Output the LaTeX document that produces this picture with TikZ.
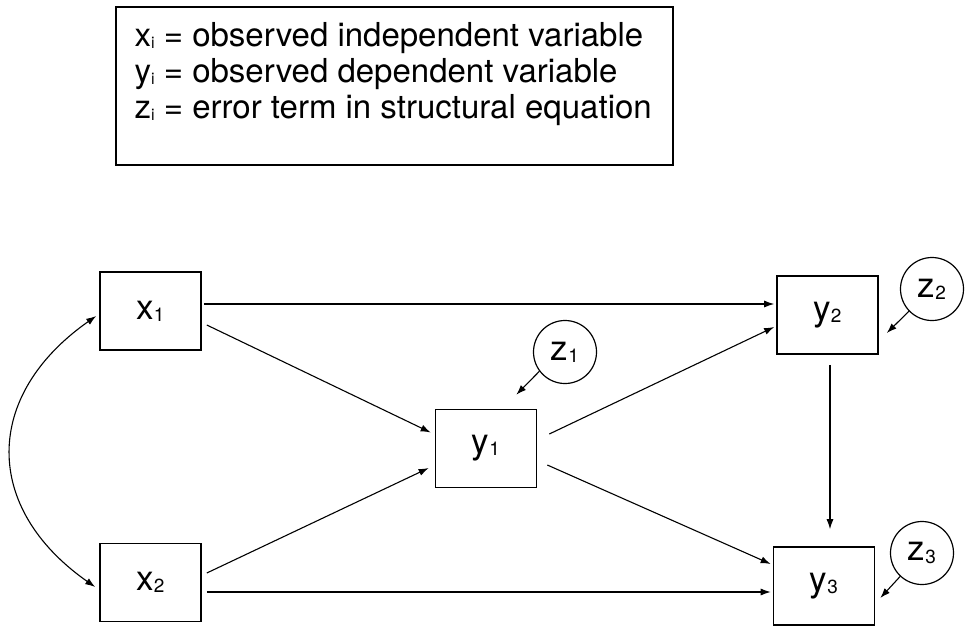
\documentclass[tikz,border=0pt]{standalone}
\usepackage{fontspec}
\setmainfont{TeX Gyre Heros}
\usetikzlibrary{arrows.meta}
\newcommand{\vsub}[2]{\raisebox{-0.06em}{\fontsize{#1}{#1}\selectfont #2}}
\tikzset{
  obsbox/.style={draw, line width=1.6pt, minimum width=101pt, minimum height=78pt, inner sep=0pt, font=\fontsize{35}{35}\selectfont},
  errcircle/.style={draw, circle, line width=1.2pt, minimum size=63pt, inner sep=0pt, font=\fontsize{35}{35}\selectfont},
  legline/.style={anchor=base west, inner sep=0pt, font=\fontsize{33}{36}\selectfont},
  causal/.style={line width=1.1pt, -{Latex[length=10pt,width=7pt]}},
  covar/.style={line width=1.1pt, {Latex[length=10pt,width=7pt]}-{Latex[length=10pt,width=7pt]}},
}

\begin{document}
\begin{tikzpicture}[x=1pt,y=-1pt]
    \useasboundingbox (0,0) rectangle (967,627);

    % Legend
    \node[draw, line width=1.1pt, minimum width=557pt, minimum height=158pt] (legend) at (394.5,86) {};
    \node[legline] (leg1) at ([shift={(19,40)}]legend.north west) {x\vsub{16}{i} = observed independent variable};
    \node[legline] (leg2) at ([shift={(19,76)}]legend.north west) {y\vsub{16}{i} = observed dependent variable};
    \node[legline] (leg3) at ([shift={(19,112)}]legend.north west) {z\vsub{16}{i} = error term in structural equation};

    % Observed variables
    \node[obsbox] (x1) at (150.5,311) {x\vsub{19}{1}};
    \node[obsbox] (x2) at (150.5,582.5) {x\vsub{19}{2}};
    \node[obsbox] (y1) at (486,448.5) {y\vsub{19}{1}};
    \node[obsbox] (y2) at (827.5,315) {y\vsub{19}{2}};
    \node[obsbox] (y3) at (824,586) {y\vsub{19}{3}};

    % Error terms
    \node[errcircle] (z1) at (565,352) {z\vsub{19}{1}};
    \node[errcircle] (z2) at (932,289) {z\vsub{19}{2}};
    \node[errcircle] (z3) at (922,553) {z\vsub{19}{3}};

    % Paths
    \draw[causal] ([shift={(2,-7)}]x1.east) -- ([shift={(-2,-7)}]x1.east -| y2.west);
    \draw[causal] ([shift={(5,14)}]x1.east) -- ([shift={(-4,-16)}]y1.west);
    \draw[causal] ([shift={(5,-9.5)}]x2.east) -- ([shift={(-6,19.5)}]y1.west);
    \draw[causal] ([shift={(5,9.5)}]x2.east) -- ([shift={(-2,9.5)}]x2.east -| y3.west);
    \draw[causal] ([shift={(12,-14.5)}]y1.east) -- ([shift={(-2,12)}]y2.west);
    \draw[causal] ([shift={(10,16.5)}]y1.east) -- ([shift={(-2,-22)}]y3.west);
    \draw[causal] ([shift={(2.5,10)}]y2.south) -- ([shift={(2.5,-17)}]y2.south |- y3.north);

    % Disturbances
    \draw[causal] (z1.217) -- ([shift={(-21,-14)}]y1.north east);
    \draw[causal] (z2.224) -- ([shift={(8,18)}]y2.east);
    \draw[causal] (z3.227) -- ([shift={(5,12)}]y3.east);

    % Covariance
    \draw[covar] ([shift={(-3,5)}]x1.west) to[out=215,in=145,looseness=1.3] ([shift={(-4,4.5)}]x2.west);
  \end{tikzpicture}
\end{document}
